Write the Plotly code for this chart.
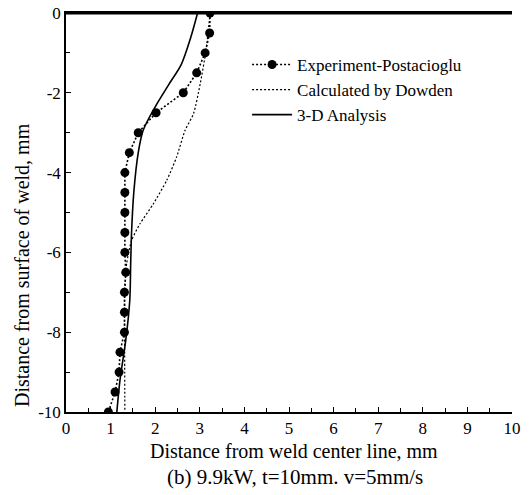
import plotly.graph_objects as go

# Experiment - Postacioglu
exp_x = [3.23, 3.22, 3.12, 2.93, 2.63, 2.02, 1.62, 1.42, 1.32, 1.32, 1.32, 1.32, 1.32,
         1.34, 1.31, 1.31, 1.31, 1.21, 1.19, 1.10, 0.95]
exp_y = [0, -0.5, -1.0, -1.5, -2.0, -2.5, -3.0, -3.5, -4.0, -4.5, -5.0, -5.5, -6.0,
         -6.5, -7.0, -7.5, -8.0, -8.5, -9.0, -9.5, -10.0]

# Calculated by Dowden
dow_x = [3.23, 3.14, 3.01, 2.86, 2.67, 2.48, 2.26, 1.96, 1.66, 1.47, 1.36, 1.32, 1.32]
dow_y = [0, -0.93, -1.77, -2.52, -2.94, -3.61, -4.19, -4.78, -5.28, -5.70, -6.28, -7.0, -10.0]

# 3-D Analysis
ana_x = [2.95, 2.80, 2.58, 2.30, 2.00, 1.73, 1.62, 1.52, 1.47, 1.45, 1.43, 1.34, 1.21, 1.14]
ana_y = [0, -0.6, -1.3, -1.8, -2.35, -2.94, -3.5, -4.5, -5.5, -6.3, -7.2, -8.2, -9.2, -10.0]

x_ticks = [0, 1, 2, 3, 4, 5, 6, 7, 8, 9, 10]
y_ticks = [0, -2, -4, -6, -8, -10]
y_tick_text = ["0", "-2", "-4", "-6", "-8", "-10"]

FONT = "Liberation Serif"

fig = go.Figure()
fig.add_trace(go.Scatter(
    x=exp_x, y=exp_y, mode="lines+markers", name="Experiment-Postacioglu",
    line=dict(color="black", width=1.6, dash="2px,2px"),
    marker=dict(color="black", size=9, symbol="circle"),
))
fig.add_trace(go.Scatter(
    x=dow_x, y=dow_y, mode="lines", name="Calculated by Dowden",
    line=dict(color="black", width=1.2, dash="2px,2px", shape="spline", smoothing=0.6),
))
fig.add_trace(go.Scatter(
    x=ana_x, y=ana_y, mode="lines", name="3-D Analysis",
    line=dict(color="black", width=1.6, shape="spline", smoothing=0.8),
))

fig.update_layout(
    width=529, height=495,
    margin=dict(l=66, r=17, t=13, b=83),
    paper_bgcolor="white", plot_bgcolor="white",
    font=dict(family=FONT, color="black", size=16),
    showlegend=True,
    legend=dict(
        x=0.406, y=0.915, xanchor="left", yanchor="top",
        bgcolor="rgba(0,0,0,0)", borderwidth=0,
        font=dict(family=FONT, size=17, color="black"),
        tracegroupgap=0, itemwidth=40,
    ),
    xaxis=dict(
        range=[0, 10], tickvals=x_ticks, ticks="inside", ticklen=5, tickwidth=1,
        tickcolor="black", showline=True, linecolor="black", linewidth=1.5,
        mirror=True, showgrid=False, zeroline=False, automargin=False,
        tickfont=dict(family=FONT, size=17),
        minor=dict(dtick=0.5, ticks="inside", ticklen=4, tickcolor="black", showgrid=False),
    ),
    yaxis=dict(
        range=[-10, 0], tickvals=y_ticks, ticktext=y_tick_text, ticks="inside",
        ticklen=5, tickwidth=1, tickcolor="black", showline=True, linecolor="black",
        linewidth=1.5, showgrid=False, zeroline=False, automargin=False,
        tickfont=dict(family=FONT, size=17),
        minor=dict(dtick=1, ticks="inside", ticklen=4, tickcolor="black", showgrid=False),
    ),
    shapes=[
        dict(type="line", xref="paper", yref="paper", x0=0, x1=1, y0=0.999, y1=0.999,
             line=dict(color="black", width=2), layer="above"),
    ],
    annotations=[
        dict(text="Distance from weld center line, mm", xref="paper", yref="paper",
             x=0.512, y=-0.098, xanchor="center", yanchor="middle", showarrow=False,
             font=dict(family=FONT, size=20)),
        dict(text="(b) 9.9kW, t=10mm. v=5mm/s", xref="paper", yref="paper",
             x=0.514, y=-0.163, xanchor="center", yanchor="middle", showarrow=False,
             font=dict(family=FONT, size=21)),
        dict(text="Distance from surface of weld, mm", xref="paper", yref="paper",
             x=-0.099, y=0.368, xanchor="center", yanchor="middle", showarrow=False,
             textangle=-90, font=dict(family=FONT, size=20)),
    ],
)

fig.write_html("out.html")
